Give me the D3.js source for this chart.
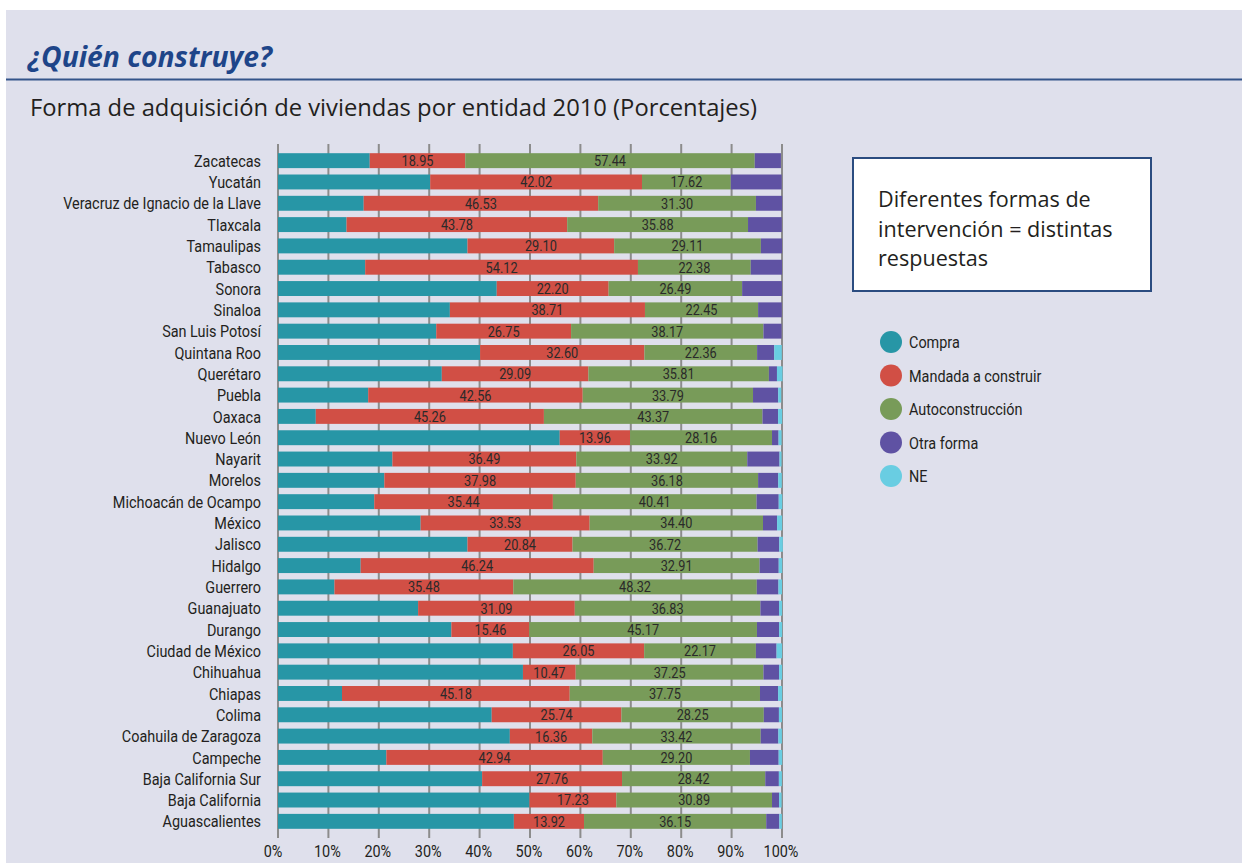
<!DOCTYPE html>
<html>
<head>
<meta charset="utf-8">
<script src="https://cdn.jsdelivr.net/npm/d3@7"></script>
<style>
  body { margin: 0; background: #fff; }
  svg { display: block; }
</style>
</head>
<body>
<svg width="1242" height="863"></svg>
<script>
  // states, top to bottom as in the chart
  const estados = [
    'Zacatecas', 'Yucatán', 'Veracruz de Ignacio de la Llave', 'Tlaxcala', 'Tamaulipas',
    'Tabasco', 'Sonora', 'Sinaloa', 'San Luis Potosí', 'Quintana Roo', 'Querétaro',
    'Puebla', 'Oaxaca', 'Nuevo León', 'Nayarit', 'Morelos', 'Michoacán de Ocampo',
    'México', 'Jalisco', 'Hidalgo', 'Guerrero', 'Guanajuato', 'Durango',
    'Ciudad de México', 'Chihuahua', 'Chiapas', 'Colima', 'Coahuila de Zaragoza',
    'Campeche', 'Baja California Sur', 'Baja California', 'Aguascalientes'
  ];

  // (not labelled in the original)
  const compra = [
    18.2, 30.2, 17.0, 13.6, 37.6, 17.3, 43.4, 34.1, 31.4, 40.1, 32.5,
    17.9, 7.5, 55.9, 22.7, 21.1, 19.1, 28.3, 37.6, 16.4, 11.2, 27.8, 34.4,
    46.6, 48.6, 12.7, 42.4, 46.0, 21.5, 40.5, 49.9, 46.8
  ];
  const mandada = [
    18.95, 42.02, 46.53, 43.78, 29.10, 54.12, 22.20, 38.71, 26.75, 32.60, 29.09,
    42.56, 45.26, 13.96, 36.49, 37.98, 35.44, 33.53, 20.84, 46.24, 35.48, 31.09, 15.46,
    26.05, 10.47, 45.18, 25.74, 16.36, 42.94, 27.76, 17.23, 13.92
  ];
  const autoconstruccion = [
    57.44, 17.62, 31.30, 35.88, 29.11, 22.38, 26.49, 22.45, 38.17, 22.36, 35.81,
    33.79, 43.37, 28.16, 33.92, 36.18, 40.41, 34.40, 36.72, 32.91, 48.32, 36.83, 45.17,
    22.17, 37.25, 37.75, 28.25, 33.42, 29.20, 28.42, 30.89, 36.15
  ];
  const otra = [
    5.2, 10.1, 5.2, 6.7, 4.2, 6.2, 7.9, 4.7, 3.6, 3.4, 1.6,
    5.0, 3.1, 1.3, 6.4, 4.0, 4.4, 2.8, 4.3, 3.8, 4.3, 3.7, 4.4,
    4.1, 3.1, 3.6, 3.0, 3.5, 5.7, 2.7, 1.4, 2.6
  ];
  const ne = [
    0, 0, 0, 0, 0, 0, 0, 0, 0, 1.5, 1.1,
    0.6, 0.8, 0.6, 0.4, 0.7, 0.7, 1.0, 0.7, 0.7, 0.7, 0.6, 0.6,
    1.1, 0.6, 0.8, 0.6, 0.7, 0.7, 0.6, 0.5, 0.5
  ];

  const series = ['Compra', 'Mandada a construir', 'Autoconstrucción', 'Otra forma', 'NE'];
  const colores = ['#2796a6', '#d14f45', '#789b59', '#5f52a3', '#69cde2'];
  const labelled = ['Mandada a construir', 'Autoconstrucción'];
  const ticks = [0, 10, 20, 30, 40, 50, 60, 70, 80, 90, 100];

  const rows = estados.map((e, i) => ({
    estado: e,
    'Compra': compra[i],
    'Mandada a construir': mandada[i],
    'Autoconstrucción': autoconstruccion[i],
    'Otra forma': otra[i],
    'NE': ne[i]
  }));

  const svg = d3.select('svg');
  const narrow = 'Roboto, "Liberation Sans", sans-serif';
  const wide = '"Open Sans", sans-serif';

  // no condensed face installed: squeeze a normal one horizontally
  const probe = svg.append('text')
    .attr('font-family', narrow).attr('font-size', 17)
    .text('Veracruz de Ignacio de la Llave');
  const sx = 198 / probe.node().getComputedTextLength();
  probe.remove();

  const squeeze = (sel, fx, fy) =>
    sel.attr('transform', (d, i) => `translate(${fx(d, i)},${fy(d, i)}) scale(${sx},1)`);

  // background panel
  svg.append('rect')
    .attr('x', 6).attr('y', 10)
    .attr('width', 1236).attr('height', 853)
    .attr('fill', '#dfe0ec');

  svg.append('text')
    .attr('x', 28).attr('y', 67)
    .attr('font-family', wide)
    .attr('font-weight', 'bold')
    .attr('font-style', 'italic')
    .attr('font-size', 28)
    .attr('fill', '#1e4589')
    .attr('textLength', 244)
    .attr('lengthAdjust', 'spacingAndGlyphs')
    .text('¿Quién construye?');

  svg.append('line')
    .attr('x1', 6).attr('x2', 1242)
    .attr('y1', 79.5).attr('y2', 79.5)
    .attr('stroke', '#34548a')
    .attr('stroke-width', 2);

  svg.append('text')
    .attr('x', 30).attr('y', 116)
    .attr('font-family', wide)
    .attr('font-size', 23)
    .attr('fill', '#231f20')
    .attr('textLength', 727)
    .attr('lengthAdjust', 'spacingAndGlyphs')
    .text('Forma de adquisición de viviendas por entidad 2010 (Porcentajes)');

  // chart
  const x = d3.scaleLinear().domain([0, 100]).range([278, 782]);
  const y = d3.scaleBand().domain(estados).range([150, 832]).paddingInner(0.3).paddingOuter(0.15);

  const g = svg.append('g');

  g.selectAll('line.grid').data(ticks)
    .enter().append('line')
    .attr('class', 'grid')
    .attr('x1', d => x(d)).attr('x2', d => x(d))
    .attr('y1', 144).attr('y2', 838)
    .attr('stroke', '#8c8c8c')
    .attr('stroke-width', 2);

  const stack = d3.stack().keys(series)(rows);

  const layers = g.selectAll('g.layer').data(stack)
    .enter().append('g')
    .attr('class', 'layer')
    .attr('fill', (d, i) => colores[i]);

  layers.selectAll('rect').data(d => d)
    .enter().append('rect')
    .attr('x', d => x(d[0]))
    .attr('y', d => y(d.data.estado))
    .attr('width', d => x(d[1]) - x(d[0]))
    .attr('height', y.bandwidth());

  layers.filter(d => labelled.includes(d.key))
    .selectAll('text').data(d => d.map(v => Object.assign({ key: d.key }, v)))
    .enter().append('text')
    .call(squeeze,
      d => (x(d[0]) + x(d[1])) / 2,
      d => y(d.data.estado) + y.bandwidth() / 2)
    .attr('dy', '0.36em')
    .attr('text-anchor', 'middle')
    .attr('font-family', narrow)
    .attr('font-size', 15)
    .attr('fill', '#2a2a2a')
    .text(d => d.data[d.key].toFixed(2));

  // category labels
  g.selectAll('text.cat').data(estados)
    .enter().append('text')
    .attr('class', 'cat')
    .call(squeeze, () => 261, d => y(d) + y.bandwidth() / 2)
    .attr('dy', '0.36em')
    .attr('text-anchor', 'end')
    .attr('font-family', narrow)
    .attr('font-size', 17)
    .attr('fill', '#231f20')
    .text(d => d);

  // x axis labels
  g.selectAll('text.tick').data(ticks)
    .enter().append('text')
    .attr('class', 'tick')
    .call(squeeze, d => x(d) - (d === 0 ? 5 : 1), () => 857)
    .attr('text-anchor', 'middle')
    .attr('font-family', narrow)
    .attr('font-size', 17)
    .attr('fill', '#231f20')
    .text(d => d + '%');

  // note box
  svg.append('rect')
    .attr('x', 853).attr('y', 158)
    .attr('width', 298).attr('height', 133)
    .attr('fill', '#fff')
    .attr('stroke', '#2b4c80')
    .attr('stroke-width', 2);

  svg.append('text')
    .attr('font-family', wide)
    .attr('font-size', 21.6)
    .attr('fill', '#231f20')
    .selectAll('tspan')
    .data(['Diferentes formas de', 'intervención = distintas', 'respuestas'])
    .enter().append('tspan')
    .attr('x', 878)
    .attr('y', (d, i) => 207 + i * 29.5)
    .text(d => d);

  // legend
  const legend = svg.append('g').selectAll('g').data(series)
    .enter().append('g')
    .attr('transform', (d, i) => `translate(891, ${342 + i * 33.5})`);

  legend.append('circle')
    .attr('r', 11)
    .attr('fill', (d, i) => colores[i]);

  legend.append('text')
    .call(squeeze, () => 18, () => 0)
    .attr('dy', '0.36em')
    .attr('font-family', narrow)
    .attr('font-size', 17)
    .attr('fill', '#231f20')
    .text(d => d);
</script>
</body>
</html>
